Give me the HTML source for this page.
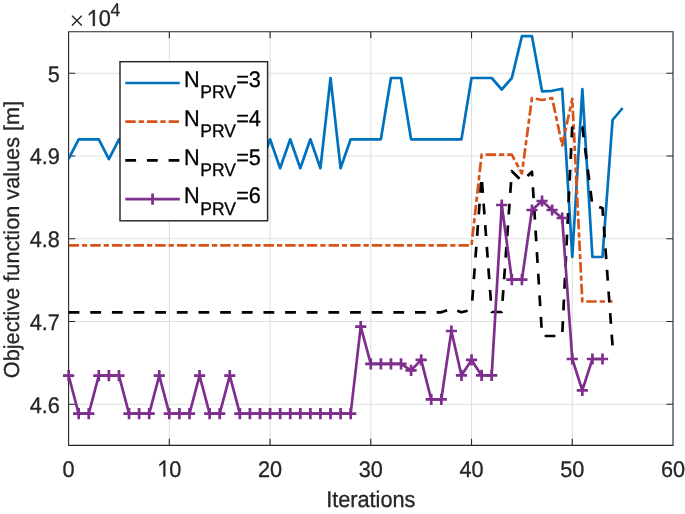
<!DOCTYPE html>
<html><head><meta charset="utf-8"><style>
html,body{margin:0;padding:0;background:#fff;}
body{width:685px;height:514px;overflow:hidden;position:relative;font-family:"Liberation Sans",sans-serif;}
</style></head><body>
<svg width="685" height="514" viewBox="0 0 685 514" style="position:absolute;left:0;top:0;will-change:transform">
<path d="M169.33 31.70V445.40M270.07 31.70V445.40M370.80 31.70V445.40M471.53 31.70V445.40M572.27 31.70V445.40M68.60 404.30H673.00M68.60 321.52H673.00M68.60 238.75H673.00M68.60 155.97H673.00M68.60 73.20H673.00" stroke="#DFDFDF" stroke-width="1.1" fill="none"/>
<path d="M68.60 31.70H673.00V445.40H68.60ZM68.60 445.40V438.80M68.60 31.70V38.30M169.33 445.40V438.80M169.33 31.70V38.30M270.07 445.40V438.80M270.07 31.70V38.30M370.80 445.40V438.80M370.80 31.70V38.30M471.53 445.40V438.80M471.53 31.70V38.30M572.27 445.40V438.80M572.27 31.70V38.30M673.00 445.40V438.80M673.00 31.70V38.30M68.60 404.30H75.20M673.00 404.30H666.40M68.60 321.52H75.20M673.00 321.52H666.40M68.60 238.75H75.20M673.00 238.75H666.40M68.60 155.97H75.20M673.00 155.97H666.40M68.60 73.20H75.20M673.00 73.20H666.40" stroke="#262626" stroke-width="1.1" fill="none"/>
<defs><clipPath id="c"><rect x="68.60" y="31.70" width="604.40" height="413.70"/></clipPath></defs>
<g clip-path="url(#c)" fill="none" stroke-width="2.70" stroke-linejoin="round">
<polyline points="68.60,158.90 78.67,139.30 88.75,139.30 98.82,139.30 108.89,159.20 118.97,139.30 129.04,168.00 139.11,139.30 149.19,168.00 159.26,139.30 169.33,139.30 179.41,168.00 189.48,139.30 199.55,168.00 209.63,139.30 219.70,139.30 229.77,168.00 239.85,139.30 249.92,139.30 259.99,168.00 270.07,139.30 280.14,168.20 290.21,139.30 300.29,168.20 310.36,139.30 320.43,168.20 330.51,78.00 340.58,168.20 350.65,139.30 360.73,139.30 370.80,139.30 380.87,139.30 390.95,78.00 401.02,78.00 411.09,139.30 421.17,139.30 431.24,139.30 441.31,139.30 451.39,139.30 461.46,139.30 471.53,78.00 481.61,78.00 491.68,78.00 501.75,89.50 511.83,78.00 521.90,36.20 531.97,36.20 542.05,91.30 552.12,90.80 562.19,88.80 572.27,257.00 582.34,89.00 592.41,257.00 602.49,257.00 612.56,120.00 622.63,108.00" stroke="#0072BD"/>
<polyline points="68.60,245.30 78.67,245.30 88.75,245.30 98.82,245.30 108.89,245.30 118.97,245.30 129.04,245.30 139.11,245.30 149.19,245.30 159.26,245.30 169.33,245.30 179.41,245.30 189.48,245.30 199.55,245.30 209.63,245.30 219.70,245.30 229.77,245.30 239.85,245.30 249.92,245.30 259.99,245.30 270.07,245.30 280.14,245.30 290.21,245.30 300.29,245.30 310.36,245.30 320.43,245.30 330.51,245.30 340.58,245.30 350.65,245.30 360.73,245.30 370.80,245.30 380.87,245.30 390.95,245.30 401.02,245.30 411.09,245.30 421.17,245.30 431.24,245.30 441.31,245.30 451.39,245.30 461.46,245.30 471.53,245.30 481.61,154.60 491.68,154.60 501.75,154.60 511.83,154.60 521.90,173.50" stroke="#D95319" stroke-dasharray="10.4 3.03 5.2 3.03" stroke-dashoffset="0.00"/>
<polyline points="521.90,173.50 531.97,98.00 542.05,100.00 552.12,98.00 562.19,145.50 572.27,98.80" stroke="#D95319" stroke-dasharray="10.4 3.03 5.2 3.03" stroke-dashoffset="6.61"/>
<circle cx="521.90" cy="173.50" r="1.35" fill="#D95319" stroke="none"/>
<polyline points="572.27,98.80 582.34,301.50 592.41,301.50 602.49,301.50 612.56,301.50" stroke="#D95319" stroke-dasharray="10.4 3.03 5.2 3.03" stroke-dashoffset="9.69"/>
<circle cx="572.27" cy="98.80" r="1.35" fill="#D95319" stroke="none"/>
<polyline points="68.60,312.30 78.67,312.30 88.75,312.30 98.82,312.30 108.89,312.30 118.97,312.30 129.04,312.30 139.11,312.30 149.19,312.30 159.26,312.30 169.33,312.30 179.41,312.30 189.48,312.30 199.55,312.30 209.63,312.30 219.70,312.30 229.77,312.30 239.85,312.30 249.92,312.30 259.99,312.30 270.07,312.30 280.14,312.30 290.21,312.30 300.29,312.30 310.36,312.30 320.43,312.30 330.51,312.30 340.58,312.30 350.65,312.30 360.73,312.30 370.80,312.30 380.87,312.30 390.95,312.30 401.02,312.30 411.09,312.30 421.17,312.30 431.24,312.30 441.31,312.30 451.39,308.70 461.46,312.30 471.53,309.80" stroke="#000" stroke-dasharray="10.8 10.85" stroke-dashoffset="0.00"/>
<polyline points="471.53,309.80 481.61,176.60 491.68,312.00 501.75,312.00 511.83,171.20 521.90,181.00 531.97,171.80 542.05,336.00 552.12,336.00 562.19,336.00 572.27,125.40 582.34,127.00 592.41,205.50 602.49,208.00" stroke="#000" stroke-dasharray="10.8 10.85" stroke-dashoffset="12.52"/>
<polyline points="602.49,208.00 612.56,346.00" stroke="#000" stroke-dasharray="10.8 10.85" stroke-dashoffset="2.90"/>
<circle cx="602.49" cy="208.00" r="1.35" fill="#000" stroke="none"/>
<polyline points="68.60,375.60 78.67,413.60 88.75,413.60 98.82,375.60 108.89,375.60 118.97,375.60 129.04,413.60 139.11,413.60 149.19,413.60 159.26,375.60 169.33,413.60 179.41,413.60 189.48,413.60 199.55,375.60 209.63,413.60 219.70,413.60 229.77,375.60 239.85,413.60 249.92,413.60 259.99,413.60 270.07,413.60 280.14,413.60 290.21,413.60 300.29,413.60 310.36,413.60 320.43,413.60 330.51,413.60 340.58,413.60 350.65,413.60 360.73,326.70 370.80,363.80 380.87,363.80 390.95,363.80 401.02,363.80 411.09,370.40 421.17,359.90 431.24,399.30 441.31,399.30 451.39,331.00 461.46,375.40 471.53,359.90 481.61,375.40 491.68,375.40 501.75,205.00 511.83,279.60 521.90,279.60 531.97,210.00 542.05,201.00 552.12,210.00 562.19,218.00 572.27,359.00 582.34,390.30 592.41,359.00 602.49,359.00" stroke="#7E2F8E"/>
</g>
<path d="M63.00 375.60H74.20M68.60 370.00V381.20M73.07 413.60H84.27M78.67 408.00V419.20M83.15 413.60H94.35M88.75 408.00V419.20M93.22 375.60H104.42M98.82 370.00V381.20M103.29 375.60H114.49M108.89 370.00V381.20M113.37 375.60H124.57M118.97 370.00V381.20M123.44 413.60H134.64M129.04 408.00V419.20M133.51 413.60H144.71M139.11 408.00V419.20M143.59 413.60H154.79M149.19 408.00V419.20M153.66 375.60H164.86M159.26 370.00V381.20M163.73 413.60H174.93M169.33 408.00V419.20M173.81 413.60H185.01M179.41 408.00V419.20M183.88 413.60H195.08M189.48 408.00V419.20M193.95 375.60H205.15M199.55 370.00V381.20M204.03 413.60H215.23M209.63 408.00V419.20M214.10 413.60H225.30M219.70 408.00V419.20M224.17 375.60H235.37M229.77 370.00V381.20M234.25 413.60H245.45M239.85 408.00V419.20M244.32 413.60H255.52M249.92 408.00V419.20M254.39 413.60H265.59M259.99 408.00V419.20M264.47 413.60H275.67M270.07 408.00V419.20M274.54 413.60H285.74M280.14 408.00V419.20M284.61 413.60H295.81M290.21 408.00V419.20M294.69 413.60H305.89M300.29 408.00V419.20M304.76 413.60H315.96M310.36 408.00V419.20M314.83 413.60H326.03M320.43 408.00V419.20M324.91 413.60H336.11M330.51 408.00V419.20M334.98 413.60H346.18M340.58 408.00V419.20M345.05 413.60H356.25M350.65 408.00V419.20M355.13 326.70H366.33M360.73 321.10V332.30M365.20 363.80H376.40M370.80 358.20V369.40M375.27 363.80H386.47M380.87 358.20V369.40M385.35 363.80H396.55M390.95 358.20V369.40M395.42 363.80H406.62M401.02 358.20V369.40M405.49 370.40H416.69M411.09 364.80V376.00M415.57 359.90H426.77M421.17 354.30V365.50M425.64 399.30H436.84M431.24 393.70V404.90M435.71 399.30H446.91M441.31 393.70V404.90M445.79 331.00H456.99M451.39 325.40V336.60M455.86 375.40H467.06M461.46 369.80V381.00M465.93 359.90H477.13M471.53 354.30V365.50M476.01 375.40H487.21M481.61 369.80V381.00M486.08 375.40H497.28M491.68 369.80V381.00M496.15 205.00H507.35M501.75 199.40V210.60M506.23 279.60H517.43M511.83 274.00V285.20M516.30 279.60H527.50M521.90 274.00V285.20M526.37 210.00H537.57M531.97 204.40V215.60M536.45 201.00H547.65M542.05 195.40V206.60M546.52 210.00H557.72M552.12 204.40V215.60M556.59 218.00H567.79M562.19 212.40V223.60M566.67 359.00H577.87M572.27 353.40V364.60M576.74 390.30H587.94M582.34 384.70V395.90M586.81 359.00H598.01M592.41 353.40V364.60M596.89 359.00H608.09M602.49 353.40V364.60" stroke="#7E2F8E" stroke-width="2.70" fill="none"/>
<rect x="120.00" y="61.70" width="147.60" height="159.10" fill="#fff" stroke="#262626" stroke-width="1.45"/>
<g fill="none" stroke-width="2.70">
<path d="M125.30 83.00H179.80" stroke="#0072BD"/>
<path d="M125.30 121.70H179.80" stroke="#D95319" stroke-dasharray="10.4 3.03 5.2 3.03"/>
<path d="M125.30 160.40H179.80" stroke="#000" stroke-dasharray="10.8 10.85"/>
<path d="M125.30 199.10H179.80M146.95 199.10H158.15M152.55 193.50V204.70" stroke="#7E2F8E"/>
</g>
<g font-family="Liberation Sans, sans-serif" text-rendering="geometricPrecision">
<text transform="translate(59.90 412.70) scale(1 1.040)" font-size="21.70" text-anchor="end" fill="#262626" stroke="#262626" stroke-width="0.30">4.6</text>
<text transform="translate(59.90 329.92) scale(1 1.040)" font-size="21.70" text-anchor="end" fill="#262626" stroke="#262626" stroke-width="0.30">4.7</text>
<text transform="translate(59.90 247.15) scale(1 1.040)" font-size="21.70" text-anchor="end" fill="#262626" stroke="#262626" stroke-width="0.30">4.8</text>
<text transform="translate(59.90 164.37) scale(1 1.040)" font-size="21.70" text-anchor="end" fill="#262626" stroke="#262626" stroke-width="0.30">4.9</text>
<text transform="translate(59.90 81.60) scale(1 1.040)" font-size="21.70" text-anchor="end" fill="#262626" stroke="#262626" stroke-width="0.30">5</text>
<text transform="translate(68.60 476.50) scale(1 1.040)" font-size="21.70" text-anchor="middle" fill="#262626" stroke="#262626" stroke-width="0.30">0</text>
<path d="M165.34 460.61 L165.34 476.50 L163.39 476.50 L163.39 463.00 L159.44 466.16 L159.26 464.49 L163.56 460.61 Z" fill="#262626" stroke="#262626" stroke-width="0.30" stroke-linejoin="round"/>
<text transform="translate(169.33 476.50) scale(1 1.040)" font-size="21.70" text-anchor="start" fill="#262626" stroke="#262626" stroke-width="0.30">0</text>
<text transform="translate(270.07 476.50) scale(1 1.040)" font-size="21.70" text-anchor="middle" fill="#262626" stroke="#262626" stroke-width="0.30">20</text>
<text transform="translate(370.80 476.50) scale(1 1.040)" font-size="21.70" text-anchor="middle" fill="#262626" stroke="#262626" stroke-width="0.30">30</text>
<text transform="translate(471.53 476.50) scale(1 1.040)" font-size="21.70" text-anchor="middle" fill="#262626" stroke="#262626" stroke-width="0.30">40</text>
<text transform="translate(572.27 476.50) scale(1 1.040)" font-size="21.70" text-anchor="middle" fill="#262626" stroke="#262626" stroke-width="0.30">50</text>
<text transform="translate(673.00 476.50) scale(1 1.040)" font-size="21.70" text-anchor="middle" fill="#262626" stroke="#262626" stroke-width="0.30">60</text>
<text transform="translate(370.80 506.70) scale(1 1.040)" font-size="21.70" text-anchor="middle" fill="#262626" stroke="#262626" stroke-width="0.30">Iterations</text>
<text transform="translate(18.5 239.5) rotate(-90)" x="0" y="0" font-size="21.70" text-anchor="middle" fill="#262626" stroke="#262626" stroke-width="0.30">Objective function values [m]</text>
<path d="M72.3 16.1L81.5 25.3M81.5 16.1L72.3 25.3" stroke="#262626" stroke-width="1.35" stroke-linecap="round"/>
<path d="M94.82 10.01 L94.82 25.90 L92.87 25.90 L92.87 12.40 L88.92 15.56 L88.75 13.89 L93.04 10.01 Z" fill="#262626" stroke="#262626" stroke-width="0.30" stroke-linejoin="round"/>
<text transform="translate(98.82 25.90) scale(1 1.040)" font-size="21.70" text-anchor="start" fill="#262626" stroke="#262626" stroke-width="0.30">0</text>
<text transform="translate(110.50 15.90) scale(1 1.040)" font-size="17.50" text-anchor="start" fill="#262626" stroke="#262626" stroke-width="0.30">4</text>
<text transform="translate(184.00 87.40) scale(1 1.040)" font-size="21.70" text-anchor="start" fill="#000" stroke="#000" stroke-width="0.30">N</text>
<text transform="translate(200.30 98.10) scale(1 1.040)" font-size="17.50" text-anchor="start" fill="#000" stroke="#000" stroke-width="0.30">PRV</text>
<text transform="translate(236.20 87.40) scale(1 1.040)" font-size="21.70" text-anchor="start" fill="#000" stroke="#000" stroke-width="0.30">=3</text>
<text transform="translate(184.00 126.00) scale(1 1.040)" font-size="21.70" text-anchor="start" fill="#000" stroke="#000" stroke-width="0.30">N</text>
<text transform="translate(200.30 136.90) scale(1 1.040)" font-size="17.50" text-anchor="start" fill="#000" stroke="#000" stroke-width="0.30">PRV</text>
<text transform="translate(236.20 126.00) scale(1 1.040)" font-size="21.70" text-anchor="start" fill="#000" stroke="#000" stroke-width="0.30">=4</text>
<text transform="translate(184.00 164.60) scale(1 1.040)" font-size="21.70" text-anchor="start" fill="#000" stroke="#000" stroke-width="0.30">N</text>
<text transform="translate(200.30 175.70) scale(1 1.040)" font-size="17.50" text-anchor="start" fill="#000" stroke="#000" stroke-width="0.30">PRV</text>
<text transform="translate(236.20 164.60) scale(1 1.040)" font-size="21.70" text-anchor="start" fill="#000" stroke="#000" stroke-width="0.30">=5</text>
<text transform="translate(184.00 203.20) scale(1 1.040)" font-size="21.70" text-anchor="start" fill="#000" stroke="#000" stroke-width="0.30">N</text>
<text transform="translate(200.30 214.50) scale(1 1.040)" font-size="17.50" text-anchor="start" fill="#000" stroke="#000" stroke-width="0.30">PRV</text>
<text transform="translate(236.20 203.20) scale(1 1.040)" font-size="21.70" text-anchor="start" fill="#000" stroke="#000" stroke-width="0.30">=6</text>
</g>
</svg>
</body></html>
